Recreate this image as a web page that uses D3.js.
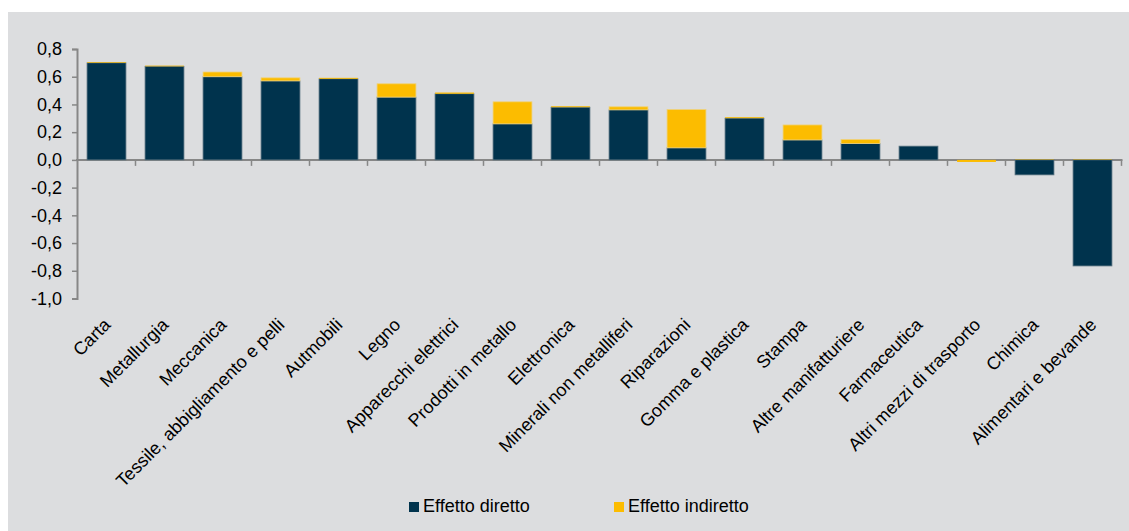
<!DOCTYPE html>
<html>
<head>
<meta charset="utf-8">
<script src="https://cdn.jsdelivr.net/npm/d3@7"></script>
<style>
  html, body { margin: 0; padding: 0; background: #ffffff; }
  svg { display: block; }
  text { font-family: "Liberation Sans", Arial, sans-serif; fill: #000; }
</style>
</head>
<body>
<svg id="chart" width="1129" height="531"></svg>
<script>
const categories = ["Carta","Metallurgia","Meccanica","Tessile, abbigliamento e pelli","Autmobili","Legno","Apparecchi elettrici","Prodotti in metallo","Elettronica","Minerali non metalliferi","Riparazioni","Gomma e plastica","Stampa","Altre manifatturiere","Farmaceutica","Altri mezzi di trasporto","Chimica","Alimentari e bevande"];
const effettoDiretto = [0.70, 0.675, 0.60, 0.57, 0.585, 0.453, 0.477, 0.26, 0.38, 0.361, 0.087, 0.301, 0.144, 0.118, 0.099, 0.0, -0.108, -0.765];
const effettoIndiretto = [0.005, 0.005, 0.034, 0.022, 0.007, 0.096, 0.009, 0.159, 0.007, 0.022, 0.276, 0.007, 0.108, 0.029, 0.0, -0.015, 0.003, 0.003];
const seriesNames = ["Effetto diretto", "Effetto indiretto"];
const seriesColors = ["#00334D", "#FCBC00"];
const yTicks = [-1.0, -0.8, -0.6, -0.4, -0.2, 0.0, 0.2, 0.4, 0.6, 0.8];

const svg = d3.select("#chart");
const W = 1129, H = 531;
const FS = 18;

// background panel
svg.append("rect").attr("x", 8).attr("y", 12).attr("width", W - 8).attr("height", H - 12).attr("fill", "#DCDDDF");

const x = d3.scaleBand().domain(categories).range([77.5, 1121.5]).paddingInner(0.33).paddingOuter(0.165);
const y = d3.scaleLinear().domain([-1.0, 0.8]).range([298.5, 49]);
const y0 = y(0);

// X axis line at zero (drawn under bars)
svg.append("line").attr("x1", 76).attr("x2", 1122.5).attr("y1", y0).attr("y2", y0)
  .attr("stroke", "#878787").attr("stroke-width", 2);

const table = categories.map((c, i) => ({cat: c, d: effettoDiretto[i], ind: effettoIndiretto[i]}));
const stack = d3.stack().keys(["d", "ind"]).offset(d3.stackOffsetDiverging);
const stacked = stack(table);

const strokeCols = ["#56707F", "#EFD27A"];
stacked.forEach((layer, li) => {
  svg.append("g").selectAll("rect").data(layer).join("rect")
    .attr("x", d => x(d.data.cat))
    .attr("width", x.bandwidth())
    .attr("y", d => y(Math.max(d[0], d[1])))
    .attr("height", d => Math.max(0, Math.abs(y(d[0]) - y(d[1]))))
    .attr("fill", seriesColors[li])
    .attr("stroke", d => Math.abs(y(d[0]) - y(d[1])) > 2.5 ? strokeCols[li] : "none")
    .attr("stroke-width", 0.8);
});

// Y axis
const yAxis = d3.axisLeft(y).tickValues(yTicks).tickSize(5).tickPadding(10)
  .tickFormat(v => d3.format(".1f")(v).replace(".", ",").replace("−", "-"));
const gy = svg.append("g").attr("transform", "translate(77,0)").call(yAxis);
gy.select(".domain").attr("stroke", "#878787").attr("stroke-width", 2);
gy.selectAll(".tick line").attr("stroke", "#878787").attr("stroke-width", 1.5);
gy.selectAll(".tick text").attr("font-size", FS).attr("font-family", "Liberation Sans, Arial, sans-serif").attr("fill", "#000");

// tick marks at band boundaries
const step = x.step();
const startX = x.range()[0];
svg.append("g").selectAll("line").data(categories).join("line")
  .attr("x1", (c, i) => startX + step * (i + 1))
  .attr("x2", (c, i) => startX + step * (i + 1))
  .attr("y1", y0).attr("y2", y0 + 6)
  .attr("stroke", "#878787").attr("stroke-width", 1.5);

// Category labels
svg.append("g").selectAll("text").data(categories).join("text")
  .attr("transform", c => `translate(${x(c) + x.bandwidth() / 2 + 5},326) rotate(-45)`)
  .attr("text-anchor", "end")
  .attr("font-size", FS)
  .text(c => c);

// Legend
const legend = [{name: seriesNames[0], color: seriesColors[0], x: 409}, {name: seriesNames[1], color: seriesColors[1], x: 614}];
const lg = svg.append("g").selectAll("g").data(legend).join("g");
lg.append("rect").attr("x", d => d.x).attr("y", 502).attr("width", 10).attr("height", 10).attr("fill", d => d.color);
lg.append("text").attr("x", d => d.x + 14).attr("y", 512).attr("font-size", FS).text(d => d.name);
</script>
</body>
</html>
